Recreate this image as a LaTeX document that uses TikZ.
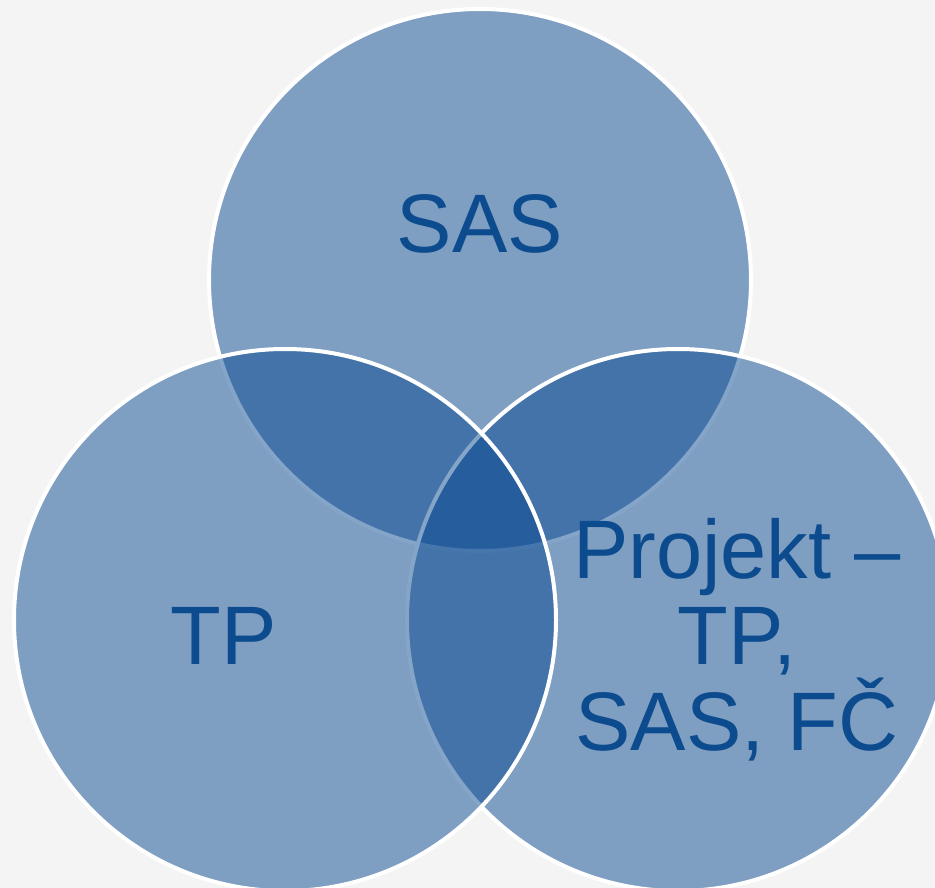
\documentclass[tikz,border=0pt]{standalone}
\usepackage{fontspec}
\setmainfont{Liberation Sans}
\definecolor{vennblue}{RGB}{10,74,146}
\definecolor{labelblue}{RGB}{11,75,142}
\definecolor{pagegray}{RGB}{244,244,244}

\begin{document}
\begin{tikzpicture}[x=1pt,y=-1pt]
    \pgfmathsetmacro{\circleradius}{271}
    \pgfmathsetmacro{\ringwidth}{4}
    \providecommand{\labelfontsize}{\fontsize{83pt}{86pt}\selectfont}
    \tikzset{
        venn/.style={circle,inner sep=0,outer sep=0,minimum size=2*\circleradius pt,
            fill=vennblue,fill opacity=0.5,draw=white,line width=\ringwidth pt},
        venntext/.style={text=labelblue,font=\labelfontsize,align=center,inner sep=0}
    }
    \fill[pagegray] (0,0) rectangle (935,888);
    \clip (0,0) rectangle (935,888);
    \node[venn] (sas) at (480,280) {};
    \node[venn] (proj) at (678,620) {};
    \node[venn] (tp) at (285,620) {};
    \node[venntext,anchor=base] (sastext) at (480,252) {SAS};
    \node[venntext,anchor=base] (tptext) at (224,664) {TP};
    \node[venntext,anchor=base] (projtext) at (737,750) {Projekt –\\TP,\\SAS, FČ};
\end{tikzpicture}
\end{document}
